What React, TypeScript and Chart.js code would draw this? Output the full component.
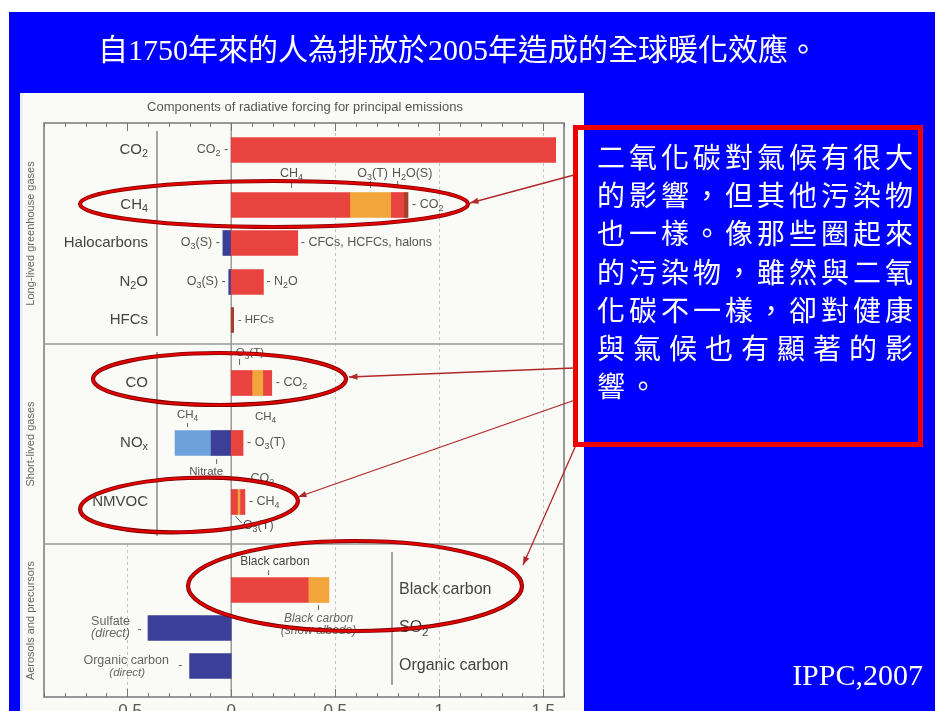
import React, { useEffect, useRef } from 'react';
import { Chart, registerables } from 'chart.js';

Chart.register(...registerables);

// ---------- data ----------
const categories = ['CO₂', 'CH₄', 'Halocarbons', 'N₂O', 'HFCs', 'CO', 'NOₓ', 'NMVOC', 'Black carbon', 'Sulfate', 'Organic carbon'];
// row index of each category on the (linear) category axis
const rowIndex = [1.35, 4.1, 6.0, 7.95, 9.85, 13.0, 16.0, 18.95, 23.35, 25.25, 27.15];
const sectionBreaks = [11.05, 21.05];
const rowMax = 28.7;
const sectionNames = ['Long-lived greenhouse gases', 'Short-lived gases', 'Aerosols and precursors'];

type Seg = [string, number, number];
const redSegs: Seg[] = [
  ['CO₂', 0, 1.56], ['CH₄', 0, 0.57], ['CH₄', 0.77, 0.83], ['Halocarbons', 0, 0.32], ['N₂O', 0, 0.155],
  ['CO', 0, 0.1], ['CO', 0.155, 0.195], ['NOₓ', 0, 0.057], ['NMVOC', 0, 0.03], ['NMVOC', 0.045, 0.066],
  ['Black carbon', 0, 0.37],
];
const orangeSegs: Seg[] = [['CH₄', 0.57, 0.77], ['CO', 0.1, 0.155], ['NMVOC', 0.03, 0.045], ['Black carbon', 0.37, 0.47]];
const brownSegs: Seg[] = [['CH₄', 0.83, 0.85], ['HFCs', 0, 0.012]];
const lightBlueSegs: Seg[] = [['NOₓ', -0.27, -0.1]];
const darkBlueSegs: Seg[] = [['Halocarbons', -0.04, 0], ['N₂O', -0.012, 0], ['NOₓ', -0.1, 0], ['Sulfate', -0.4, 0], ['Organic carbon', -0.2, 0]];

const xMin = -0.9;
const xMax = 1.6;
const xTickValues = [-0.5, 0, 0.5, 1, 1.5];
const xTickLabels = ['-0.5', '0', '0.5', '1', '1.5'];

const slideTitle = '自1750年來的人為排放於2005年造成的全球暖化效應。';
const chartTitle = 'Components of radiative forcing for principal emissions';
const noteLines = ['二氧化碳對氣候有很大', '的影響，但其他污染物', '也一樣。像那些圈起來', '的污染物，雖然與二氧', '化碳不一樣，卻對健康', '與氣候也有顯著的影', '響。'];
const sourceText = 'IPPC,2007';

// ---------- helpers ----------
const SANS = '"Liberation Sans", Arial, sans-serif';
const SUB: Record<string, string> = { '₂': '2', '₃': '3', '₄': '4', 'ₓ': 'x' };

function drawRich(ctx: CanvasRenderingContext2D, text: string, x: number, y: number, size: number,
  align: 'left' | 'right' | 'center', color: string, italic = false) {
  const parts: { t: string; sub: boolean }[] = [];
  for (const ch of text) {
    const s = SUB[ch];
    if (s) parts.push({ t: s, sub: true });
    else if (parts.length && !parts[parts.length - 1].sub) parts[parts.length - 1].t += ch;
    else parts.push({ t: ch, sub: false });
  }
  const f = (sz: number) => `${italic ? 'italic ' : ''}${sz}px ${SANS}`;
  let w = 0;
  for (const p of parts) { ctx.font = f(p.sub ? size * 0.72 : size); w += ctx.measureText(p.t).width; }
  let cx = align === 'left' ? x : align === 'right' ? x - w : x - w / 2;
  ctx.fillStyle = color; ctx.textAlign = 'left'; ctx.textBaseline = 'middle';
  for (const p of parts) {
    ctx.font = f(p.sub ? size * 0.72 : size);
    ctx.fillText(p.t, cx, p.sub ? y + size * 0.28 : y);
    cx += ctx.measureText(p.t).width;
  }
}

function ellipse(ctx: CanvasRenderingContext2D, cx: number, cy: number, rx: number, ry: number, rot = 0) {
  ctx.beginPath();
  ctx.ellipse(cx, cy, rx, ry, rot, 0, Math.PI * 2);
  ctx.strokeStyle = '#7a0000'; ctx.lineWidth = 4.2; ctx.stroke();
  ctx.strokeStyle = '#e00000'; ctx.lineWidth = 2.4; ctx.stroke();
}

function arrow(ctx: CanvasRenderingContext2D, x1: number, y1: number, x2: number, y2: number) {
  ctx.strokeStyle = '#b02828'; ctx.fillStyle = '#b02828'; ctx.lineWidth = 1.3;
  ctx.beginPath(); ctx.moveTo(x1, y1); ctx.lineTo(x2, y2); ctx.stroke();
  const a = Math.atan2(y2 - y1, x2 - x1); const L = 9; const W = 0.35;
  ctx.beginPath(); ctx.moveTo(x2, y2);
  ctx.lineTo(x2 - L * Math.cos(a - W), y2 - L * Math.sin(a - W));
  ctx.lineTo(x2 - L * Math.cos(a + W), y2 - L * Math.sin(a + W));
  ctx.closePath(); ctx.fill();
}

const slidePlugin = {
  id: 'slide',
  beforeDraw(chart: any) {
    const ctx: CanvasRenderingContext2D = chart.ctx;
    ctx.save();
    ctx.fillStyle = '#ffffff'; ctx.fillRect(0, 0, 935, 711);
    ctx.fillStyle = '#0000ff'; ctx.fillRect(9, 12, 926, 699);
    ctx.fillStyle = '#fafaf7'; ctx.fillRect(20, 93, 564, 618);
    ctx.fillStyle = '#e8eefa'; ctx.fillRect(20, 93, 3, 618);
    // slide title
    ctx.fillStyle = '#ffffff';
    ctx.font = '30px "Liberation Serif", "Noto Sans CJK TC", serif';
    ctx.textAlign = 'center'; ctx.textBaseline = 'middle';
    ctx.fillText(slideTitle, 458, 52);
    // chart title
    ctx.fillStyle = '#555'; ctx.font = `13px ${SANS}`;
    ctx.fillText(chartTitle, 305, 107);
    ctx.restore();
  },
  beforeDatasetsDraw(chart: any) {
    const ctx: CanvasRenderingContext2D = chart.ctx;
    const sx = chart.scales.x; const sy = chart.scales.y;
    const { left, right, top, bottom } = chart.chartArea;
    const px = (v: number) => sx.getPixelForValue(v);
    const py = (r: number) => sy.getPixelForValue(r);
    ctx.save();
    // dashed grid lines
    ctx.strokeStyle = '#c4c4c4'; ctx.lineWidth = 1; ctx.setLineDash([3, 3]);
    for (const v of xTickValues) {
      if (v === 0) continue;
      const y0 = v < 0 ? py(sectionBreaks[1]) : top + 10;
      ctx.beginPath(); ctx.moveTo(Math.round(px(v)) + 0.5, y0); ctx.lineTo(Math.round(px(v)) + 0.5, bottom); ctx.stroke();
    }
    ctx.setLineDash([]);
    // zero line
    ctx.strokeStyle = '#8a8a8a'; ctx.lineWidth = 1.3;
    ctx.beginPath(); ctx.moveTo(px(0), top); ctx.lineTo(px(0), bottom); ctx.stroke();
    // frame
    ctx.strokeStyle = '#808080'; ctx.lineWidth = 1.6;
    ctx.strokeRect(left, top, right - left, bottom - top);
    // section separators
    ctx.strokeStyle = '#999'; ctx.lineWidth = 1.4;
    for (const b of sectionBreaks) {
      ctx.beginPath(); ctx.moveTo(left, py(b)); ctx.lineTo(right, py(b)); ctx.stroke();
    }
    // label column lines
    ctx.strokeStyle = '#777'; ctx.lineWidth = 1.3;
    ctx.beginPath(); ctx.moveTo(157, top + 8); ctx.lineTo(157, py(sectionBreaks[0]) - 8); ctx.stroke();
    ctx.beginPath(); ctx.moveTo(157, py(sectionBreaks[0]) + 8); ctx.lineTo(157, py(sectionBreaks[1]) - 8); ctx.stroke();
    ctx.beginPath(); ctx.moveTo(392, py(sectionBreaks[1]) + 8); ctx.lineTo(392, bottom - 12); ctx.stroke();
    // ticks
    ctx.strokeStyle = '#777'; ctx.lineWidth = 1;
    for (let i = Math.round(xMin * 10); i <= Math.round(xMax * 10); i++) {
      const v = i / 10; const x = Math.round(px(v)) + 0.5;
      const major = i % 5 === 0; const len = major ? 8 : 4;
      ctx.beginPath(); ctx.moveTo(x, top); ctx.lineTo(x, top + len); ctx.stroke();
      ctx.beginPath(); ctx.moveTo(x, bottom); ctx.lineTo(x, bottom - len); ctx.stroke();
    }
    // tick labels
    ctx.fillStyle = '#555'; ctx.font = `17px ${SANS}`; ctx.textAlign = 'center'; ctx.textBaseline = 'alphabetic';
    xTickValues.forEach((v, i) => ctx.fillText(xTickLabels[i], px(v), bottom + 19));
    ctx.restore();
  },
  afterDraw(chart: any) {
    const ctx: CanvasRenderingContext2D = chart.ctx;
    const sx = chart.scales.x; const sy = chart.scales.y;
    const px = (v: number) => sx.getPixelForValue(v);
    const py = (r: number) => sy.getPixelForValue(r);
    const rowY = (c: string) => py(rowIndex[categories.indexOf(c)]);
    const g = '#555';
    ctx.save();
    // section names (rotated)
    const bounds = [0, sectionBreaks[0], sectionBreaks[1], rowMax];
    sectionNames.forEach((n, i) => {
      const cy = (py(bounds[i]) + py(bounds[i + 1])) / 2;
      ctx.save(); ctx.translate(31, cy); ctx.rotate(-Math.PI / 2);
      ctx.fillStyle = '#666'; ctx.font = `11px ${SANS}`; ctx.textAlign = 'center'; ctx.textBaseline = 'middle';
      ctx.fillText(n, 0, 0); ctx.restore();
    });
    // category labels (left column for gases, right column for aerosols)
    categories.forEach((c, i) => {
      if (i < 8) drawRich(ctx, c, 148, py(rowIndex[i]), 15, 'right', '#444');
    });
    drawRich(ctx, 'Black carbon', 399, rowY('Black carbon'), 16, 'left', '#444');
    drawRich(ctx, 'SO₂', 399, rowY('Sulfate'), 16, 'left', '#444');
    drawRich(ctx, 'Organic carbon', 399, rowY('Organic carbon'), 16, 'left', '#444');

    // component annotations
    const fs = 12.5;
    const tick = (v: number, y1: number, y2: number) => {
      ctx.strokeStyle = '#666'; ctx.lineWidth = 1;
      ctx.beginPath(); ctx.moveTo(px(v), y1); ctx.lineTo(px(v), y2); ctx.stroke();
    };
    let y = rowY('CO₂');
    drawRich(ctx, 'CO₂ -', px(0) - 3, y, fs, 'right', g);
    y = rowY('CH₄');
    drawRich(ctx, 'CH₄', px(0.29), y - 31, fs, 'center', g); tick(0.29, y - 24, y - 17);
    drawRich(ctx, 'O₃(T)', px(0.68), y - 31, fs, 'center', g); tick(0.67, y - 24, y - 17);
    drawRich(ctx, 'H₂O(S)', px(0.87), y - 31, fs, 'center', g); tick(0.8, y - 24, y - 17);
    drawRich(ctx, '- CO₂', px(0.85) + 4, y, fs, 'left', g);
    y = rowY('Halocarbons');
    drawRich(ctx, 'O₃(S) -', px(-0.04) - 3, y, fs, 'right', g);
    drawRich(ctx, '- CFCs, HCFCs, halons', px(0.32) + 3, y, fs, 'left', g);
    y = rowY('N₂O');
    drawRich(ctx, 'O₃(S) -', px(-0.012) - 3, y, fs, 'right', g);
    drawRich(ctx, '- N₂O', px(0.155) + 3, y, fs, 'left', g);
    y = rowY('HFCs');
    drawRich(ctx, '- HFCs', px(0.012) + 4, y, fs - 1, 'left', g);
    y = rowY('CO');
    drawRich(ctx, 'O₃(T)', px(0.09), y - 30, fs - 1, 'center', g); tick(0.04, y - 24, y - 18);
    drawRich(ctx, '- CO₂', px(0.195) + 4, y, fs, 'left', g);
    drawRich(ctx, 'CH₄', px(0.165), y + 34, fs - 1, 'center', g);
    y = rowY('NOₓ');
    drawRich(ctx, 'CH₄', px(-0.21), y - 28, fs - 1, 'center', g); tick(-0.21, y - 20, y - 16);
    drawRich(ctx, '- O₃(T)', px(0.057) + 4, y, fs, 'left', g);
    drawRich(ctx, 'Nitrate', px(-0.12), y + 29, fs - 1, 'center', g); tick(-0.07, y + 16, y + 21);
    y = rowY('NMVOC');
    drawRich(ctx, 'CO₂', px(0.15), y - 23, fs, 'center', g);
    drawRich(ctx, '- CH₄', px(0.066) + 4, y, fs, 'left', g);
    drawRich(ctx, 'O₃(T)', px(0.13), y + 24, fs, 'center', g);
    ctx.strokeStyle = '#666'; ctx.beginPath(); ctx.moveTo(px(0.02), y + 14); ctx.lineTo(px(0.05), y + 21); ctx.stroke();
    y = rowY('Black carbon');
    drawRich(ctx, 'Black carbon', px(0.21), y - 28, fs - 0.5, 'center', '#444'); tick(0.18, y - 20, y - 15);
    drawRich(ctx, 'Black carbon', px(0.42), y + 29, fs - 0.5, 'center', '#666', true); tick(0.42, y + 15, y + 20);
    drawRich(ctx, '(snow albedo)', px(0.42), y + 41, fs - 0.5, 'center', '#666', true);
    y = rowY('Sulfate');
    drawRich(ctx, 'Sulfate', px(-0.58), y - 6, fs, 'center', '#666');
    drawRich(ctx, '(direct)', px(-0.58), y + 6, fs, 'center', '#666', true);
    drawRich(ctx, '-', px(-0.44), y + 2, fs, 'center', '#666');
    y = rowY('Organic carbon');
    drawRich(ctx, 'Organic carbon', px(-0.505), y - 5, fs, 'center', '#666');
    drawRich(ctx, '(direct)', px(-0.5), y + 7, fs - 1, 'center', '#666', true);
    drawRich(ctx, '-', px(-0.245), y, fs, 'center', '#666');

    // highlight ellipses
    ellipse(ctx, 274, rowY('CH₄') - 1, 194, 23);
    ellipse(ctx, 219.5, rowY('CO') - 4, 126.5, 26);
    ellipse(ctx, 189, rowY('NMVOC') + 3, 109, 27, -0.04);
    ellipse(ctx, 355, rowY('Black carbon') - 4, 167, 45, 0);

    // arrows from the note box
    arrow(ctx, 574, 175, 470, 203);
    arrow(ctx, 574, 368, 349, 377);
    arrow(ctx, 575, 400, 298, 497);
    arrow(ctx, 576, 445, 523, 565);

    // note box
    ctx.strokeStyle = '#ee0000'; ctx.lineWidth = 5;
    ctx.strokeRect(575.5, 127.5, 345, 317);
    ctx.fillStyle = '#ffffff';
    ctx.font = '28px "Noto Sans CJK TC", sans-serif';
    ctx.textAlign = 'left'; ctx.textBaseline = 'middle';
    noteLines.forEach((line, li) => {
      const chars = Array.from(line);
      const cy = 157 + li * 38.3;
      const pitch = chars.length >= 9 ? (913 - 597 - 28) / (chars.length - 1) : (913 - 597 - 28) / 9;
      chars.forEach((ch, i) => ctx.fillText(ch, 597 + i * pitch, cy));
    });

    // source
    ctx.font = '30px "Liberation Serif", serif'; ctx.textAlign = 'right'; ctx.textBaseline = 'middle';
    ctx.fillText(sourceText, 923, 677);
    ctx.restore();
  },
};

function makeDataset(label: string, segs: Seg[], color: string) {
  return {
    label,
    data: segs.map(([c, a, b]) => ({ x: [a, b], y: rowIndex[categories.indexOf(c)] })),
    backgroundColor: color,
    borderWidth: 0,
    barThickness: 25,
    grouped: false,
  };
}

export default function App() {
  const ref = useRef<HTMLCanvasElement>(null);
  useEffect(() => {
    const canvas = ref.current;
    if (!canvas) return;
    const chart = new Chart(canvas, {
      type: 'bar',
      data: {
        datasets: [
          makeDataset('red', redSegs, '#e8433f'),
          makeDataset('orange', orangeSegs, '#f2a53a'),
          makeDataset('brown', brownSegs, '#a3402e'),
          makeDataset('lightblue', lightBlueSegs, '#6ea0d9'),
          makeDataset('darkblue', darkBlueSegs, '#3c3f98'),
        ] as any,
      },
      options: {
        indexAxis: 'y',
        responsive: false,
        maintainAspectRatio: false,
        animation: false,
        layout: { padding: { left: 44, top: 123, right: 371, bottom: 14 } },
        scales: {
          x: { type: 'linear', min: xMin, max: xMax, display: false },
          y: { type: 'linear', min: 0, max: rowMax, reverse: true, display: false, offset: false },
        },
        plugins: { legend: { display: false }, tooltip: { enabled: false } },
      } as any,
      plugins: [slidePlugin as any],
    });
    return () => chart.destroy();
  }, []);
  return (
    <div style={{ position: 'fixed', left: 0, top: 0, width: 935, height: 711 }}>
      <canvas ref={ref} width={935} height={711} style={{ display: 'block', width: 935, height: 711 }} />
    </div>
  );
}
